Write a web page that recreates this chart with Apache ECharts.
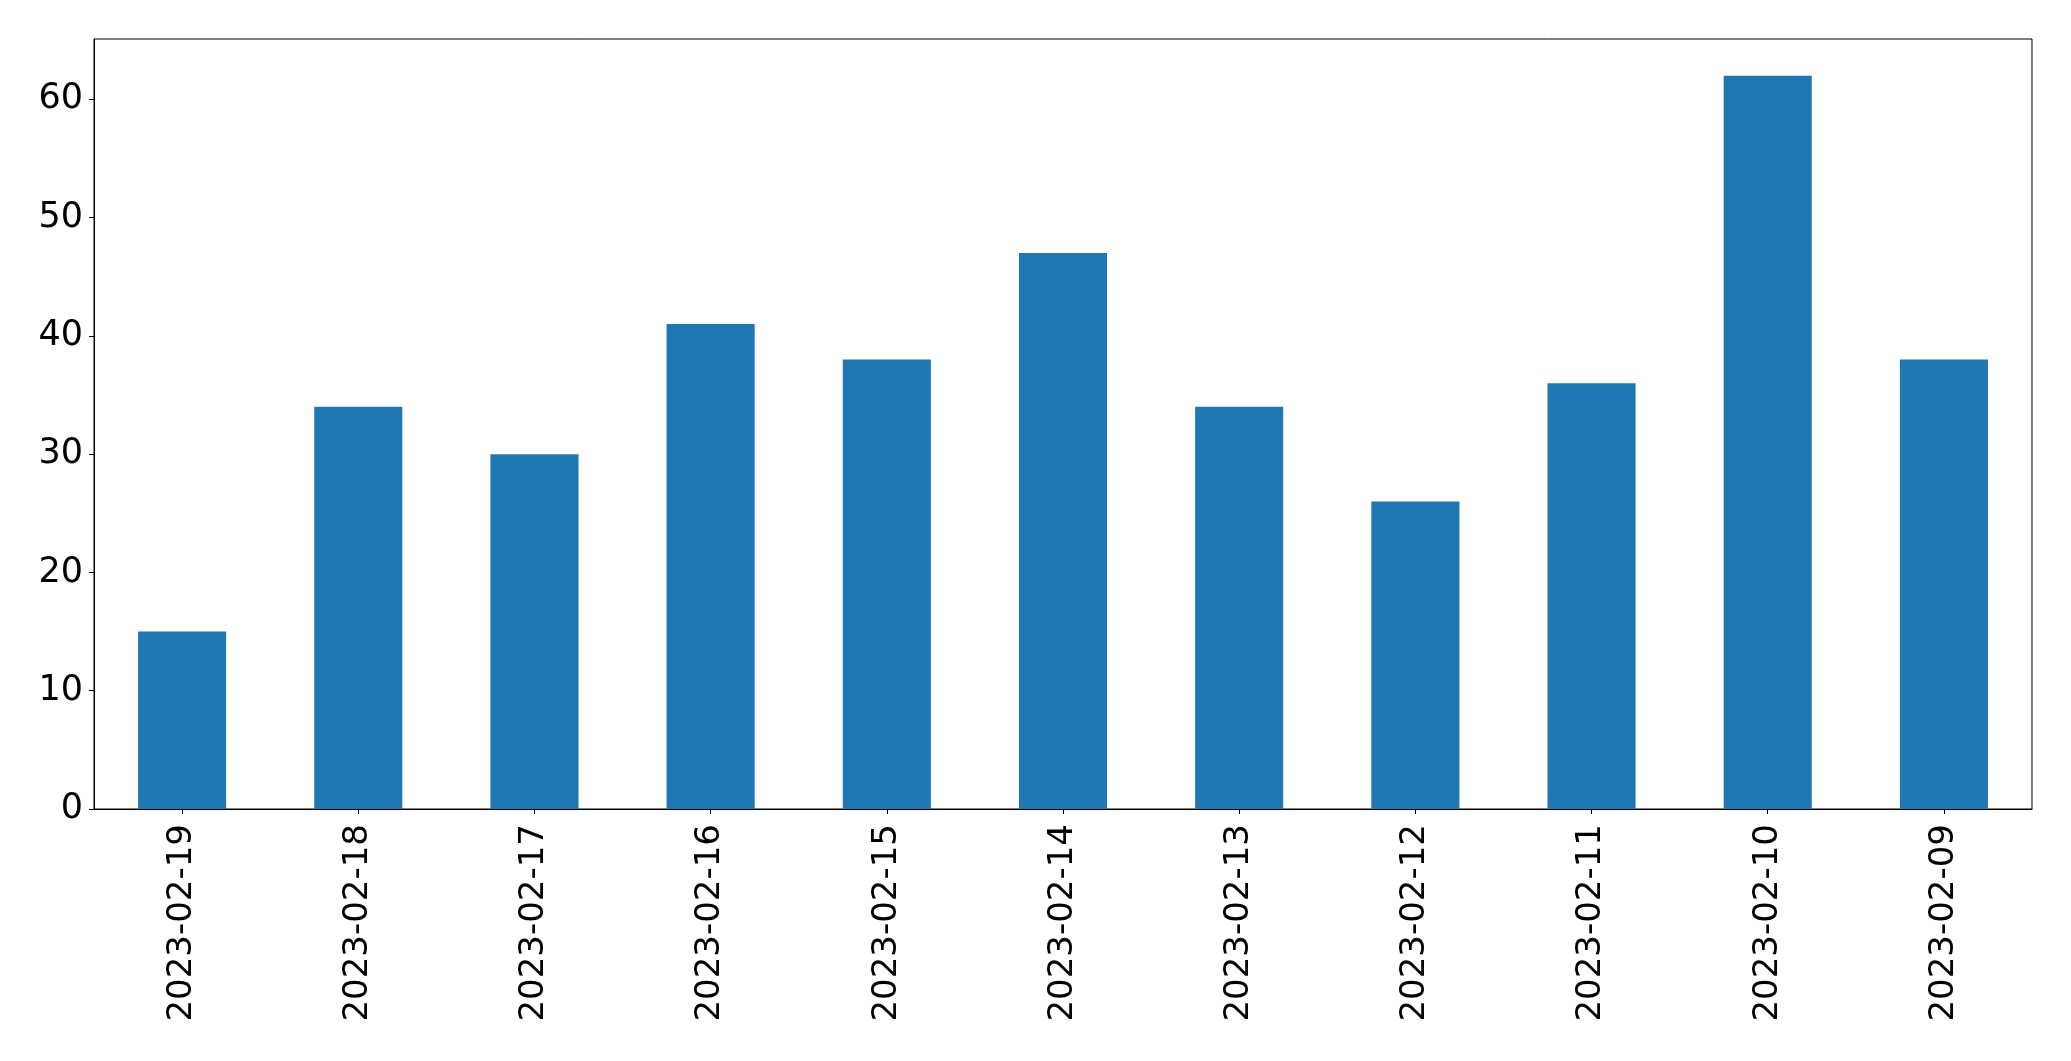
<!DOCTYPE html>
<html>
<head>
<meta charset="utf-8">
<script src="https://cdn.jsdelivr.net/npm/echarts@6/dist/echarts.min.js"></script>
<style>
html,body{margin:0;padding:0;background:#fff;}
#chart{width:2071px;height:1061px;}
</style>
</head>
<body>
<div id="chart"></div>
<script>
const categories = ['2023-02-19','2023-02-18','2023-02-17','2023-02-16','2023-02-15','2023-02-14','2023-02-13','2023-02-12','2023-02-11','2023-02-10','2023-02-09'];
const values = [15, 34, 30, 41, 38, 47, 34, 26, 36, 62, 38];
const yTicks = [0, 10, 20, 30, 40, 50, 60];

const chart = echarts.init(document.getElementById('chart'), null, {renderer: 'canvas'});
const font = 'DejaVu Sans';
chart.setOption({
  animation: false,
  backgroundColor: '#ffffff',
  grid: {
    left: 94, right: 39, top: 39, bottom: 252,
    show: true, borderColor: '#000', borderWidth: 1, backgroundColor: 'transparent'
  },
  xAxis: {
    type: 'category',
    data: categories,
    axisLine: {show: true, lineStyle: {color: '#000', width: 1}},
    axisTick: {show: true, alignWithLabel: true, length: 5, lineStyle: {color: '#000', width: 1}},
    axisLabel: {rotate: 90, fontSize: 34, fontFamily: font, color: '#000', margin: 15, interval: 0}
  },
  yAxis: {
    type: 'value',
    min: 0, max: 65.1,
    splitLine: {show: false},
    axisLine: {show: true, lineStyle: {color: '#000', width: 1}},
    axisTick: {show: true, length: 5, customValues: yTicks, lineStyle: {color: '#000', width: 1}},
    axisLabel: {fontSize: 35, fontFamily: font, color: '#000', margin: 11, customValues: yTicks}
  },
  series: [{
    type: 'bar',
    data: values,
    barWidth: '50%',
    itemStyle: {color: '#1f77b4'}
  }]
});
</script>
</body>
</html>
